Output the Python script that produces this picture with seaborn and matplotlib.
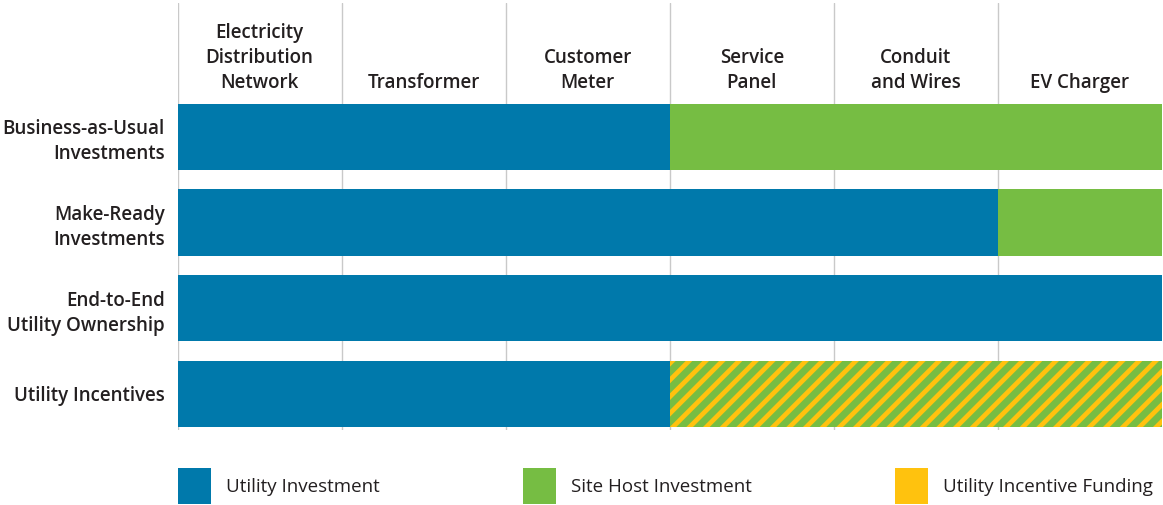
import matplotlib
matplotlib.use("Agg")
import matplotlib.pyplot as plt
from matplotlib.patches import Patch
import pandas as pd
import seaborn as sns

# Columns of the value chain (headers) and the four ownership models (rows)
columns = [
    "Electricity\nDistribution\nNetwork",
    "Transformer",
    "Customer\nMeter",
    "Service\nPanel",
    "Conduit\nand Wires",
    "EV Charger",
]
rows = [
    "Business-as-Usual\nInvestments",
    "Make-Ready\nInvestments",
    "End-to-End\nUtility Ownership",
    "Utility Incentives",
]
# number of columns covered by utility investment, counted from the left
utility_cols = [3, 5, 6, 3]
# what covers the remaining columns in each row
remainder_type = ["Site Host Investment", "Site Host Investment",
                  "Site Host Investment", "Utility Incentive Funding"]
legend_labels = ["Utility Investment", "Site Host Investment", "Utility Incentive Funding"]

BLUE = "#0079ab"
GREEN = "#76bd43"
YELLOW = "#ffc20e"
GRID = "#c9c9c9"
TEXT = "#231f20"
FS = 13.5

sns.set_style("white")
plt.rcParams["font.family"] = ["Open Sans", "DejaVu Sans"]
plt.rcParams["hatch.linewidth"] = 3.4

n_cols = len(columns)
df = pd.DataFrame({
    "row": rows,
    "utility": utility_cols,
    "total": [n_cols] * len(rows),
    "remainder": remainder_type,
})

fig = plt.figure(figsize=(11.63, 5.05), dpi=100)
ax = fig.add_axes([177.5 / 1163, 75 / 505, 984.5 / 1163, 427 / 505])

# back layer: full-width bar, green or striped
sns.barplot(data=df, x="total", y="row", order=rows, color=GREEN, saturation=1,
            width=0.77, linewidth=0, ax=ax, orient="h", zorder=2)
for patch, kind in zip(ax.patches, df["remainder"]):
    if kind == "Utility Incentive Funding":
        patch.set_facecolor(GREEN)
        patch.set_hatch("//")
        patch.set_edgecolor(YELLOW)
        patch.set_linewidth(0)

# front layer: utility share
sns.barplot(data=df, x="utility", y="row", order=rows, color=BLUE, saturation=1,
            width=0.77, linewidth=0, ax=ax, orient="h", zorder=3)

ax.set_xlim(0, n_cols)
ax.set_ylim(3.42, -1.56)
ax.set_xticks(range(n_cols))
ax.grid(axis="x", color=GRID, linewidth=1, zorder=0)
ax.grid(axis="y", visible=False)
ax.set_axisbelow(True)
ax.tick_params(axis="x", labelbottom=False, length=0)
ax.tick_params(axis="y", length=0, pad=9, labelsize=FS, labelcolor=TEXT)
for lbl in ax.get_yticklabels():
    lbl.set_fontweight("semibold")
    lbl.set_linespacing(1.33)
ax.set_xlabel("")
ax.set_ylabel("")
sns.despine(ax=ax, left=True, bottom=True)

for i, name in enumerate(columns):
    ax.text(i + 0.5, -0.515, name, ha="center", va="bottom", fontsize=FS,
            fontweight="semibold", color=TEXT, linespacing=1.33)

handles = [
    Patch(facecolor=BLUE, linewidth=0),
    Patch(facecolor=GREEN, linewidth=0),
    Patch(facecolor=YELLOW, linewidth=0),
]
fig.legend(handles, legend_labels, loc="lower left",
           bbox_to_anchor=(177.5 / 1163, 1 / 505), ncol=3, frameon=False,
           fontsize=FS, labelcolor=TEXT, borderpad=0, borderaxespad=0,
           handlelength=1.8, handleheight=2.6, handletextpad=0.8,
           columnspacing=7.6)

fig.savefig("out.png", dpi=100)
